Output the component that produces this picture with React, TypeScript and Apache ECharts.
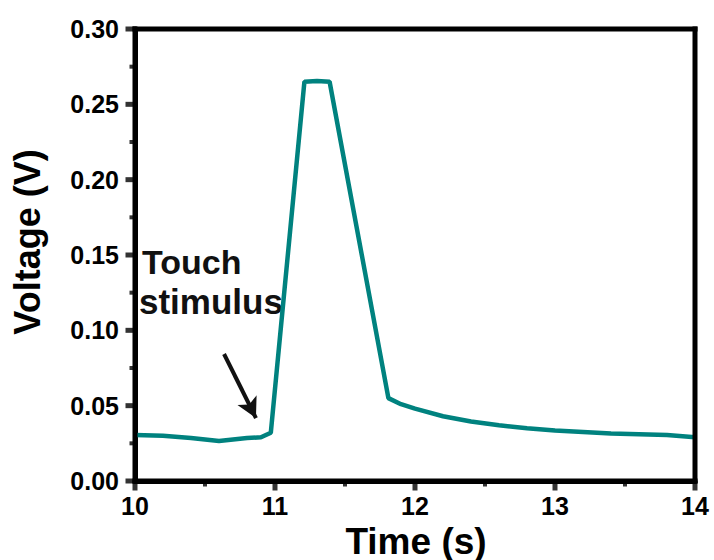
import React, { useEffect, useRef } from "react";
import * as echarts from "echarts";

const times = [10.0, 10.2, 10.4, 10.6, 10.8, 10.9, 10.97, 11.21, 11.3, 11.39, 11.81, 11.9, 12.0, 12.2, 12.4, 12.6, 12.8, 13.0, 13.2, 13.4, 13.6, 13.8, 14.0];
const voltages = [0.0305, 0.030, 0.0285, 0.0265, 0.0285, 0.029, 0.032, 0.265, 0.2655, 0.265, 0.055, 0.051, 0.048, 0.043, 0.0395, 0.037, 0.035, 0.0335, 0.0325, 0.0315, 0.031, 0.0305, 0.029];
const xMajorTicks = [10, 11, 12, 13, 14];
const xMinorTicks = [10.5, 11.5, 12.5, 13.5];
const yMajorTicks = [0, 0.05, 0.1, 0.15, 0.2, 0.25, 0.3];
const yMinorTicks = [0.025, 0.075, 0.125, 0.175, 0.225, 0.275];
const arrowStart = [10.636, 0.0843];
const arrowEnd = [10.864, 0.0418];
const annotationLines = ["Touch", "stimulus"];
const xTitle = "Time (s)";
const yTitle = "Voltage (V)";

const FONT = "'Liberation Sans', Arial, sans-serif";
const INK = "#000";
const X_MIN = 10, X_MAX = 14, Y_MIN = 0, Y_MAX = 0.3;

export default function App() {
  const ref = useRef<HTMLDivElement>(null);
  useEffect(() => {
    if (!ref.current) return;
    const chart = echarts.init(ref.current, null, { renderer: "svg" });
    const tickSeries = (data: number[][], size: number[], offset: number[]) => ({
      type: "scatter",
      data,
      symbol: "rect",
      symbolSize: size,
      symbolOffset: offset,
      clip: false,
      silent: true,
      z: 10,
      itemStyle: { color: INK },
      emphasis: { disabled: true },
    });
    chart.setOption({
      animation: false,
      grid: { left: 135, right: 19, top: 29, bottom: 79 },
      xAxis: {
        type: "value",
        min: X_MIN,
        max: X_MAX,
        interval: 1,
        axisLine: { show: true, onZero: false, lineStyle: { color: INK, width: 5 } },
        splitLine: { show: false },
        axisTick: { show: false },
        axisLabel: { fontSize: 25, fontWeight: "bold", color: "#000", margin: 12, fontFamily: FONT },
      },
      yAxis: {
        type: "value",
        min: Y_MIN,
        max: Y_MAX,
        interval: 0.05,
        axisLine: { show: true, onZero: false, lineStyle: { color: INK, width: 5 } },
        splitLine: { show: false },
        axisTick: { show: false },
        axisLabel: {
          fontSize: 25,
          fontWeight: "bold",
          color: "#000",
          margin: 16,
          fontFamily: FONT,
          formatter: (v: number) => v.toFixed(2),
        },
      },
      series: [
        {
          type: "line",
          data: times.map((t, i) => [t, voltages[i]]),
          showSymbol: false,
          lineStyle: { color: "#00827f", width: 4.5 },
          itemStyle: { color: "#00827f" },
          markLine: {
            silent: true,
            symbol: ["none", "arrow"],
            symbolSize: [16, 20],
            label: { show: false },
            lineStyle: { color: "#111", width: 4, type: "solid" },
            data: [[{ coord: arrowStart }, { coord: arrowEnd }]],
          },
        },
        tickSeries(xMajorTicks.map((t) => [t, Y_MIN]), [5, 9], [0, 5]),
        tickSeries(xMinorTicks.map((t) => [t, Y_MIN]), [4, 5], [0, 3]),
        tickSeries(yMajorTicks.map((v) => [X_MIN, v]), [9, 5], [-5, 0]),
        tickSeries(yMinorTicks.map((v) => [X_MIN, v]), [5, 4], [-3, 0]),
      ],
    });

    const p0 = chart.convertToPixel({ gridIndex: 0 }, [X_MIN, Y_MIN]) as number[];
    const p1 = chart.convertToPixel({ gridIndex: 0 }, [X_MAX, Y_MAX]) as number[];
    const L = p0[0], B = p0[1], R = p1[0], T = p1[1];
    const w = 5;
    const frame = [
      { x: L - w / 2, y: T - w / 2, width: w, height: B - T + w },
      { x: R - w / 2, y: T - w / 2, width: w, height: B - T + w },
      { x: L - w / 2, y: T - w / 2, width: R - L + w, height: w },
      { x: L - w / 2, y: B - w / 2, width: R - L + w, height: w },
    ].map((shape) => ({ type: "rect", shape, style: { fill: INK }, silent: true, z: 20 }));

    chart.setOption({
      graphic: [
        ...frame,
        {
          type: "text",
          left: 142,
          top: 245,
          style: { text: annotationLines[0], font: `bold 34px ${FONT}`, fill: "#111" },
        },
        {
          type: "text",
          left: 139,
          top: 284,
          style: { text: annotationLines[1], font: `bold 35px ${FONT}`, fill: "#111" },
        },
        {
          type: "text",
          x: 416,
          y: 541,
          style: { text: xTitle, font: `bold 37px ${FONT}`, fill: "#000", align: "center", verticalAlign: "middle" },
        },
        {
          type: "text",
          x: 27,
          y: 242,
          rotation: Math.PI / 2,
          style: { text: yTitle, font: `bold 36px ${FONT}`, fill: "#000", align: "center", verticalAlign: "middle" },
        },
      ],
    });
    return () => chart.dispose();
  }, []);
  return <div ref={ref} style={{ width: 714, height: 560, position: "absolute", left: 0, top: 0 }} />;
}
